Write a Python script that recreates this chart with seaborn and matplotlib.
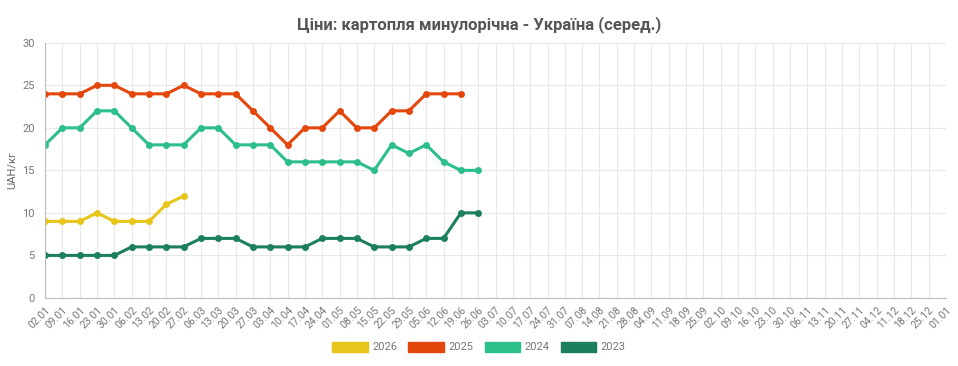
import matplotlib
matplotlib.use("Agg")
import matplotlib.pyplot as plt
from matplotlib.patches import Patch
import seaborn as sns
import pandas as pd

dates = ['02.01', '09.01', '16.01', '23.01', '30.01', '06.02', '13.02', '20.02', '27.02',
         '06.03', '13.03', '20.03', '27.03', '03.04', '10.04', '17.04', '24.04', '01.05',
         '08.05', '15.05', '22.05', '29.05', '05.06', '12.06', '19.06', '26.06', '03.07',
         '10.07', '17.07', '24.07', '31.07', '07.08', '14.08', '21.08', '28.08', '04.09',
         '11.09', '18.09', '25.09', '02.10', '09.10', '16.10', '23.10', '30.10', '06.11',
         '13.11', '20.11', '27.11', '04.12', '11.12', '18.12', '25.12', '01.01']

y2026 = [9, 9, 9, 10, 9, 9, 9, 11, 12]
y2025 = [24, 24, 24, 25, 25, 24, 24, 24, 25, 24, 24, 24, 22, 20, 18, 20, 20, 22, 20, 20,
         22, 22, 24, 24, 24]
y2024 = [18, 20, 20, 22, 22, 20, 18, 18, 18, 20, 20, 18, 18, 18, 16, 16, 16, 16, 16, 15,
         18, 17, 18, 16, 15, 15]
y2023 = [5, 5, 5, 5, 5, 6, 6, 6, 6, 7, 7, 7, 6, 6, 6, 6, 7, 7, 7, 6, 6, 6, 7, 7, 10, 10]

series = {'2026': y2026, '2025': y2025, '2024': y2024, '2023': y2023}
colors = {'2026': '#E8C51A', '2025': '#E4470C', '2024': '#2CBF8A', '2023': '#1B7F5B'}

rows = []
for year, vals in series.items():
    for i, v in enumerate(vals):
        rows.append({'week': i, 'price': v, 'year': year})
df = pd.DataFrame(rows)

sns.set_style("white")
plt.rcParams['font.family'] = ['Roboto', 'DejaVu Sans']

fig = plt.figure(figsize=(9.58, 3.66), dpi=100)
ax = fig.add_axes([0.047, 0.186, 0.9405, 0.697])

# older years first so the newer lines sit on top
for year in ['2023', '2024', '2025', '2026']:
    sub = df[df['year'] == year]
    sns.lineplot(data=sub, x='week', y='price', color=colors[year], marker='o',
                 markersize=5, markeredgewidth=0, linewidth=2.2, ax=ax, legend=False)

ax.set_xlim(0, len(dates) - 1)
ax.set_ylim(0, 30)
ax.set_yticks(range(0, 31, 5))
ax.set_xticks(range(len(dates)))
ax.set_xticklabels(dates, rotation=45, ha='right', rotation_mode='anchor')
ax.tick_params(axis='x', labelsize=7.5, colors='#777777', length=4, color='#cccccc', pad=1)
ax.tick_params(axis='y', labelsize=8, colors='#777777', length=4, color='#cccccc')
ax.grid(True, color='#e8e8e8', linewidth=0.8)
for side in ['top', 'right']:
    ax.spines[side].set_visible(False)
for side in ['left', 'bottom']:
    ax.spines[side].set_color('#bbbbbb')
ax.set_xlabel('')
ax.set_ylabel('UAH/кг', fontsize=8, color='#666666')

fig.suptitle('Ціни: картопля минулорічна - Україна (серед.)', x=0.5, y=0.955,
             fontsize=12, fontweight='bold', color='#555555')

handles = [Patch(facecolor=colors[y], edgecolor=colors[y], label=y) for y in series]
fig.legend(handles=handles, loc='lower center', bbox_to_anchor=(0.5, 0.01), ncol=4,
           frameon=False, fontsize=8, handlelength=3.2, handleheight=1.0,
           columnspacing=1.0, handletextpad=0.4, labelcolor='#777777')

fig.savefig('out.png', dpi=100)
